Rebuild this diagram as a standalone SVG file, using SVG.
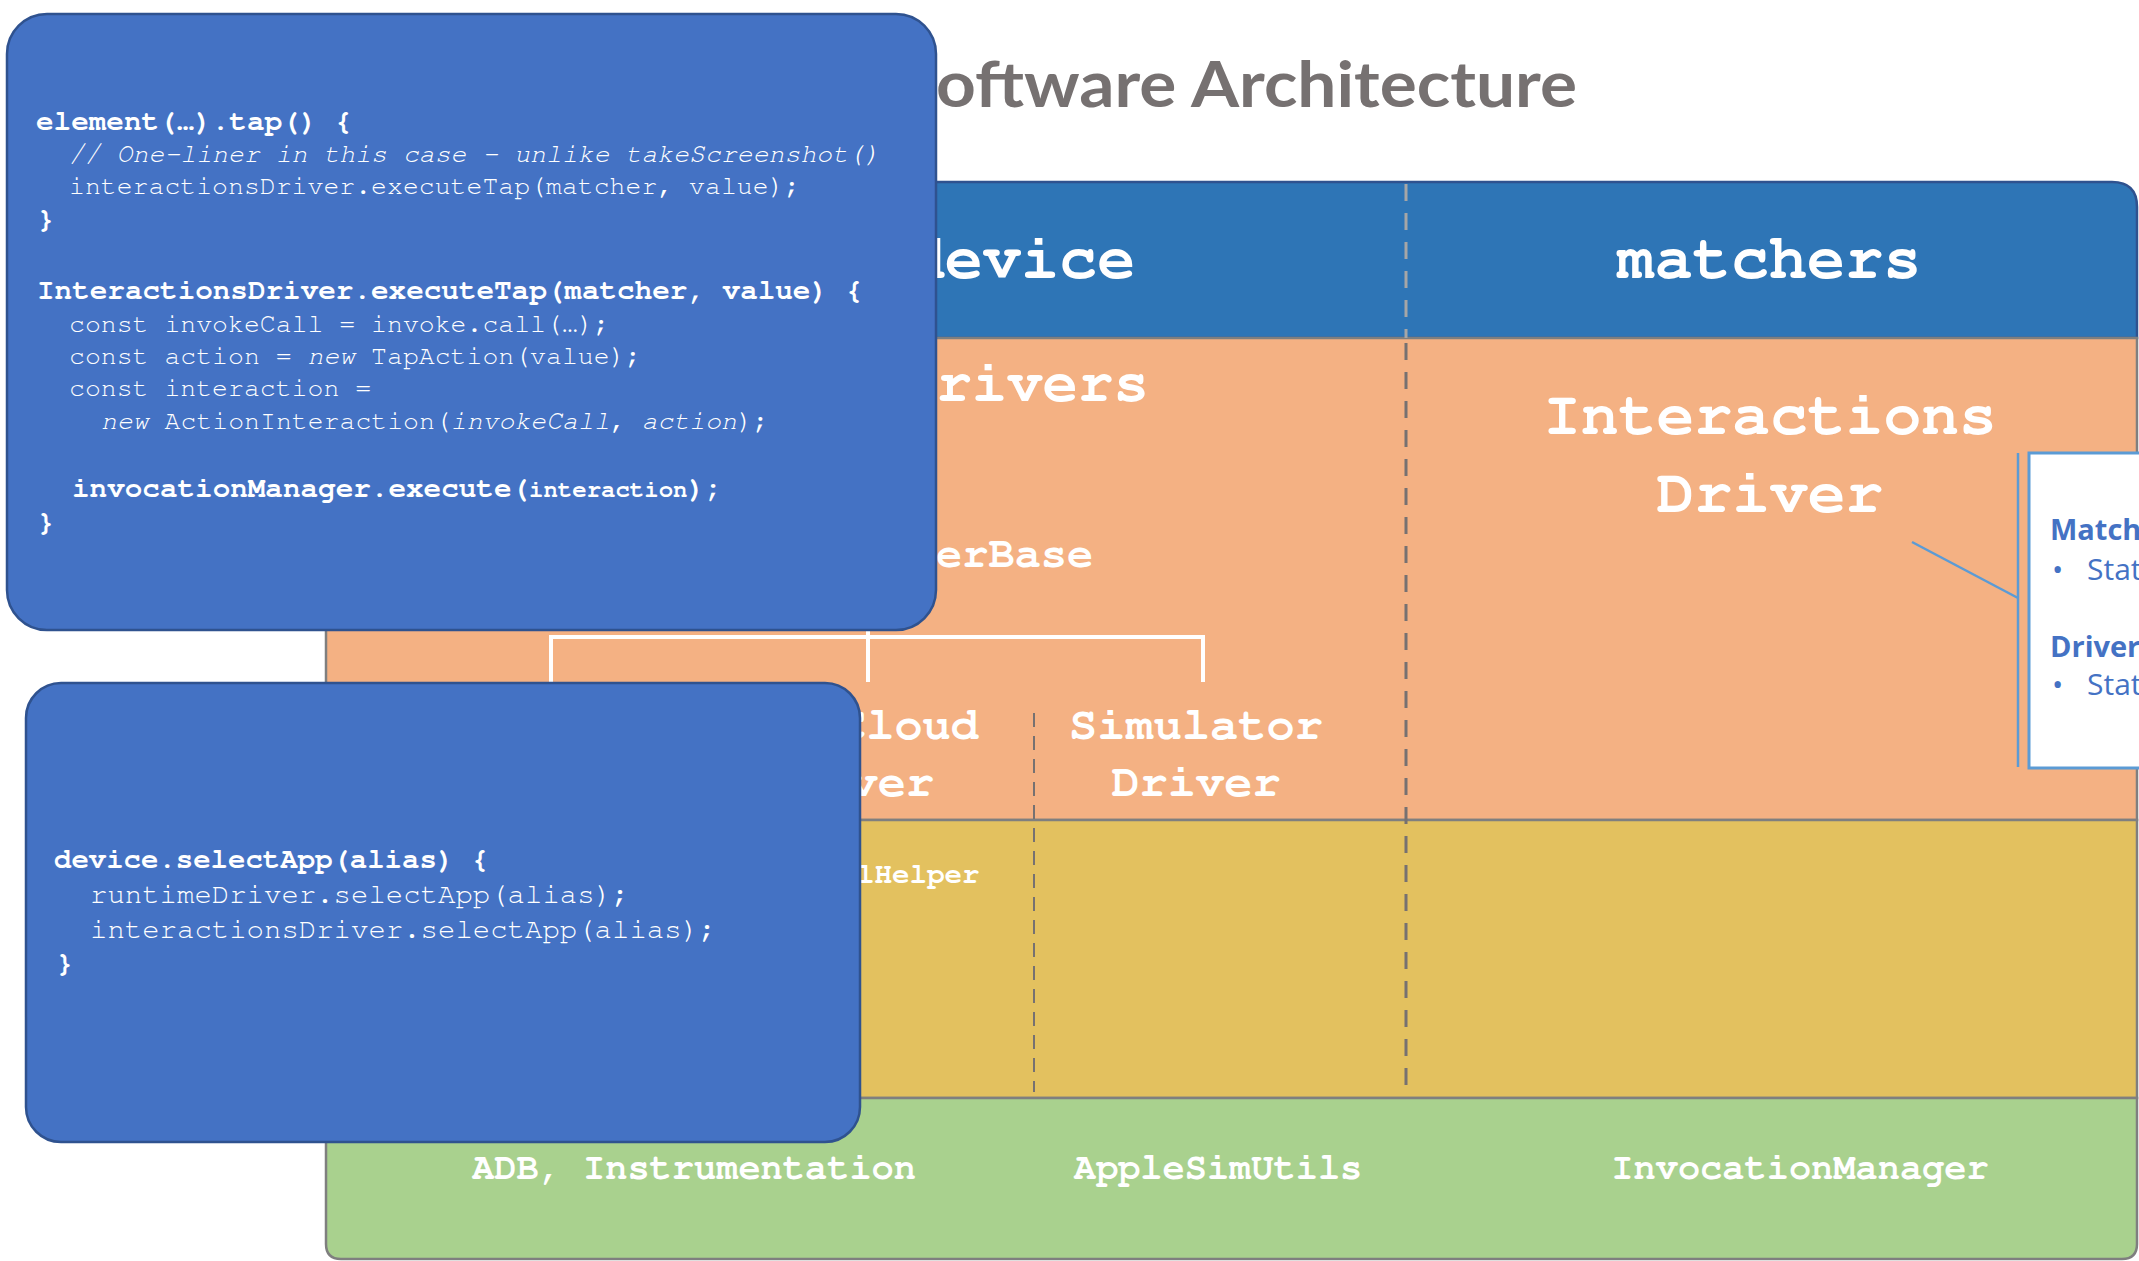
<svg xmlns="http://www.w3.org/2000/svg" width="2139" height="1261" viewBox="0 0 2139 1261">
  <style>
    .mono { font-family: "Nimbus Mono PS", "Nimbus Mono L", "FreeMono", "Courier New", "Liberation Mono", monospace; fill: #ffffff; }
    .lbl { font-family: "Nimbus Mono PS", "Nimbus Mono L", "FreeMono", "Courier New", "Liberation Mono", monospace; font-weight: bold; fill: #ffffff; }
    .b { font-weight: bold; }
    .i { font-style: italic; }
    .band { stroke: #7f7f7f; stroke-width: 2.5; }
    .codebox { fill: #4472c4; stroke: #2f528f; stroke-width: 2.5; }
    .tree { stroke: #ffffff; stroke-width: 4; fill: none; }
    .callout-line { stroke: #5b9bd5; stroke-width: 2.5; fill: none; }
    .callout-text { font-family: "Open Sans", "Noto Sans", sans-serif; fill: #4472c4; }
  </style>

  <rect x="0" y="0" width="2139" height="1261" fill="#ffffff"/>

  <!-- Title -->
  <g id="title">
    <text x="936" y="107" font-family="Lato, 'Open Sans', sans-serif" font-weight="bold" font-size="64" fill="#767171" textLength="641" lengthAdjust="spacingAndGlyphs">oftware Architecture</text>
  </g>

  <!-- Layered panel -->
  <g id="panel">
    <path id="band-header" d="M326,338 V215 Q326,182 359,182 H2112 Q2137,182 2137,207 V338 Z" fill="#2e75b6" stroke="#2f528f" stroke-width="2.5"/>
    <rect id="band-drivers" class="band" x="326" y="338" width="1811" height="482" fill="#f4b183"/>
    <rect id="band-helpers" class="band" x="326" y="820" width="1811" height="278" fill="#e3c15f"/>
    <path id="band-tools" class="band" d="M326,1098 H2137 V1244 Q2137,1259 2122,1259 H341 Q326,1259 326,1244 Z" fill="#a9d18e"/>
    <!-- column separators -->
    <line x1="1406" y1="184" x2="1406" y2="338" stroke="#a6a6a6" stroke-width="3" stroke-dasharray="17 12"/>
    <line x1="1406" y1="343" x2="1406" y2="1092" stroke="#767171" stroke-width="3" stroke-dasharray="17 12"/>
    <line x1="1034" y1="713" x2="1034" y2="1092" stroke="#767171" stroke-width="2" stroke-dasharray="14 9"/>
  </g>

  <!-- Column headers -->
  <g id="device-header">
    <text class="lbl" x="1021" y="278" font-size="63.5" text-anchor="middle">device</text>
  </g>
  <g id="matchers-header">
    <text class="lbl" x="1769" y="278" font-size="63.5" text-anchor="middle">matchers</text>
  </g>

  <!-- Driver layer -->
  <g id="drivers">
    <text class="lbl" x="901" y="401" font-size="59">Drivers</text>
  </g>
  <g id="driver-base">
    <text class="lbl" x="936" y="567" font-size="43.7">erBase</text>
  </g>
  <g id="cloud-driver">
    <text class="lbl" x="838" y="739" font-size="47">Cloud</text>
    <text class="lbl" x="765" y="796" font-size="47">Driver</text>
  </g>
  <g id="simulator-driver">
    <text class="lbl" x="1196" y="739" font-size="47" text-anchor="middle">Simulator</text>
    <text class="lbl" x="1196" y="796" font-size="47" text-anchor="middle">Driver</text>
  </g>
  <g id="interactions-driver">
    <text class="lbl" x="1770" y="434" font-size="63" text-anchor="middle">Interactions</text>
    <text class="lbl" x="1770" y="512" font-size="63" text-anchor="middle">Driver</text>
  </g>

  <!-- Helper layer -->
  <g id="helper">
    <text class="lbl" x="857" y="883" font-size="29.2">lHelper</text>
  </g>

  <!-- Tool layer -->
  <g id="adb">
    <text class="lbl" x="694" y="1179" font-size="37" text-anchor="middle">ADB, Instrumentation</text>
  </g>
  <g id="applesimutils">
    <text class="lbl" x="1218" y="1179" font-size="37" text-anchor="middle">AppleSimUtils</text>
  </g>
  <g id="invocation-manager">
    <text class="lbl" x="1800" y="1179" font-size="37" text-anchor="middle">InvocationManager</text>
  </g>

  <!-- Connectors -->
  <g id="connectors">
    <path class="tree" d="M868,600 V682"/>
    <path class="tree" d="M551,682 V637 H1203 V682"/>
    <path class="callout-line" d="M1912,542 L2018,598"/>
    <line class="callout-line" x1="2018" y1="453" x2="2018" y2="767"/>
  </g>

  <!-- Callout note -->
  <g id="callout">
    <rect x="2029" y="453" width="140" height="315" fill="#ffffff" stroke="#5b9bd5" stroke-width="3"/>
    <text class="callout-text" x="2050" y="540" font-size="29" font-weight="bold">Match</text>
    <text class="callout-text" x="2052" y="580" font-size="30">•</text>
    <text class="callout-text" x="2087" y="580" font-size="30">Stat</text>
    <text class="callout-text" x="2050" y="657" font-size="29" font-weight="bold">Driver</text>
    <text class="callout-text" x="2052" y="695" font-size="30">•</text>
    <text class="callout-text" x="2087" y="695" font-size="30">Stat</text>
  </g>

  <!-- Code snippet: element().tap() -->
  <g id="code-tap">
    <rect class="codebox" x="7" y="14" width="929" height="616" rx="40" ry="40"/>
    <text class="mono b" x="36" y="130" font-size="29.3">element(…).tap() {</text>
    <text class="mono i" x="69" y="162" font-size="26.5" fill="#f2f2f2">// One-liner in this case – unlike takeScreenshot()</text>
    <text class="mono" x="69" y="194" font-size="26.5">interactionsDriver.executeTap(matcher, value);</text>
    <text class="mono b" x="37" y="228" font-size="29.3">}</text>
    <text class="mono b" x="37" y="299" font-size="29.3">InteractionsDriver.executeTap(matcher, value) {</text>
    <text class="mono" x="69" y="332" font-size="26.5">const invokeCall = invoke.call(…);</text>
    <text class="mono" x="69" y="364" font-size="26.5">const action = <tspan class="i">new</tspan> TapAction(value);</text>
    <text class="mono" x="69" y="396" font-size="26.5">const interaction =</text>
    <text class="mono" x="101" y="429" font-size="26.5"><tspan class="i">new</tspan> ActionInteraction(<tspan class="i">invokeCall</tspan>, <tspan class="i">action</tspan>);</text>
    <text class="mono b" x="72" y="497" font-size="29.3">invocationManager.execute(<tspan font-size="24">interaction</tspan>);</text>
    <text class="mono b" x="37" y="531" font-size="29.3">}</text>
  </g>

  <!-- Code snippet: device.selectApp() -->
  <g id="code-select">
    <rect class="codebox" x="26" y="683" width="834" height="459" rx="35" ry="35"/>
    <text class="mono b" x="54" y="868" font-size="29">device.selectApp(alias) {</text>
    <text class="mono" x="90" y="903" font-size="29">runtimeDriver.selectApp(alias);</text>
    <text class="mono" x="90" y="938" font-size="29">interactionsDriver.selectApp(alias);</text>
    <text class="mono b" x="56" y="972" font-size="29">}</text>
  </g>
</svg>
